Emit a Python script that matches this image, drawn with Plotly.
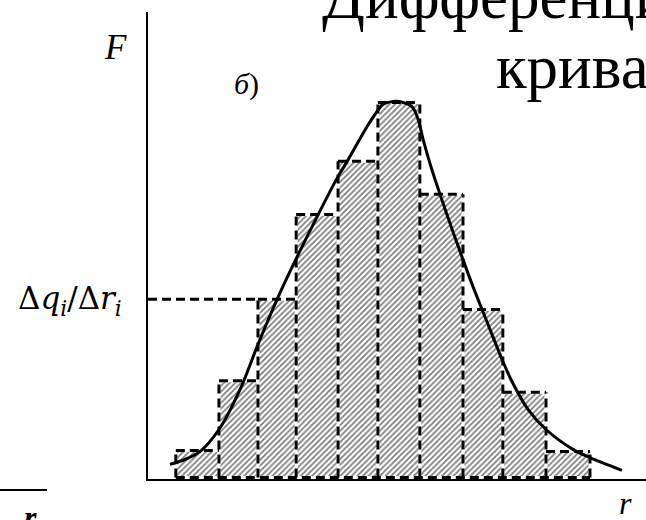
import plotly.graph_objects as go

# Histogram of the size distribution: class boundaries (r) and class heights (F = Δq/Δr)
r_edges = [0.67, 1.71, 2.65, 3.57, 4.58, 5.54, 6.55, 7.59, 8.55, 9.59, 10.65]
F_bars = [0.072, 0.258, 0.475, 0.701, 0.843, 1.000, 0.755, 0.448, 0.227, 0.069]

# Smooth differential distribution curve
r_curve = [0.53, 0.89, 1.25, 1.71, 2.22, 2.65, 3.11, 3.42, 4.10, 4.58, 4.80, 5.28,
           5.52, 5.66, 6.00, 6.36, 6.51, 6.63, 6.84, 7.08, 7.33, 7.57, 7.81, 8.05,
           8.29, 8.53, 8.77, 9.16, 9.59, 10.24, 10.65, 11.42]
F_curve = [0.035, 0.048, 0.069, 0.128, 0.235, 0.355, 0.475, 0.549, 0.701, 0.803, 0.843, 0.936,
           0.976, 0.995, 1.003, 0.989, 0.955, 0.901, 0.821, 0.741, 0.661, 0.587, 0.515, 0.448,
           0.381, 0.315, 0.256, 0.181, 0.128, 0.075, 0.053, 0.019]

# Class whose height is carried over to the F axis
i_marked = 2

FONT = "Liberation Serif, Times New Roman, serif"
MATH_FONT = "DejaVu Serif, serif"
W, H = 646, 520
DASH = "9px,5px"

centers = [(a + b) / 2 for a, b in zip(r_edges[:-1], r_edges[1:])]
widths = [b - a for a, b in zip(r_edges[:-1], r_edges[1:])]

fig = go.Figure()

# hatched class bars
fig.add_trace(go.Bar(
    x=centers, y=F_bars, width=widths,
    marker=dict(color="white", line=dict(width=0),
                pattern=dict(shape="/", size=4, solidity=0.45,
                             fgcolor="black", bgcolor="white")),
    hoverinfo="skip",
))

# dashed outline of the histogram: shared vertical edges, tops, base
ox, oy = [], []
n = len(F_bars)
for k, e in enumerate(r_edges):
    hl = F_bars[k - 1] if k > 0 else 0
    hr = F_bars[k] if k < n else 0
    ox += [e, e, None]
    oy += [0, max(hl, hr), None]
for k, h in enumerate(F_bars):
    ox += [r_edges[k], r_edges[k + 1], None]
    oy += [h, h, None]
ox += [r_edges[0], r_edges[-1], None]
oy += [0, 0, None]

fig.add_trace(go.Scatter(x=ox, y=oy, mode="lines",
                         line=dict(color="white", width=3), hoverinfo="skip"))
fig.add_trace(go.Scatter(x=ox, y=oy, mode="lines",
                         line=dict(color="black", width=3, dash=DASH), hoverinfo="skip"))

# level of the marked class carried to the F axis
fig.add_trace(go.Scatter(
    x=[0, r_edges[i_marked]], y=[F_bars[i_marked], F_bars[i_marked]], mode="lines",
    line=dict(color="black", width=3, dash=DASH), hoverinfo="skip"))

# differential curve
fig.add_trace(go.Scatter(
    x=r_curve, y=F_curve, mode="lines",
    line=dict(color="black", width=3, shape="spline", smoothing=0.8), hoverinfo="skip"))


def px(x):
    return x / W


def py(y):
    return 1 - y / H


annotations = [
    dict(text="<i>F</i>", x=px(115), y=py(47), font=dict(size=35)),
    dict(text="<i>б</i>)", x=px(246), y=py(84), font=dict(size=30)),
    dict(text="Δ<i>q</i><sub><i>i</i></sub>/Δ<i>r</i><sub><i>i</i></sub>",
         x=px(70), y=py(300), font=dict(size=31, family=MATH_FONT)),
    dict(text="<i>r</i>", x=px(625), y=py(503), font=dict(size=32)),
    dict(text="<b><i>r</i></b>", x=px(30), y=py(517), font=dict(size=32)),
    dict(text="Дифференциальная", x=px(320), y=py(34), xanchor="left", yanchor="bottom",
         font=dict(size=63)),
    dict(text="кривая", x=px(494), y=py(104), xanchor="left", yanchor="bottom",
         font=dict(size=63)),
]
for a in annotations:
    a.setdefault("xanchor", "center")
    a.setdefault("yanchor", "middle")
    a.update(xref="paper", yref="paper", showarrow=False)
    a["font"].setdefault("family", FONT)
    a["font"]["color"] = "black"

fig.update_layout(
    width=W, height=H,
    margin=dict(l=0, r=0, t=0, b=0),
    paper_bgcolor="white", plot_bgcolor="white",
    showlegend=False,
    annotations=annotations,
    shapes=[dict(type="line", xref="paper", yref="paper",
                 x0=0, x1=px(47), y0=py(490), y1=py(490),
                 line=dict(color="black", width=2))],
    xaxis=dict(domain=[px(148), 1], range=[0, 12], showline=True, linecolor="black",
               linewidth=2, showticklabels=False, ticks="", showgrid=False, zeroline=False,
               fixedrange=True),
    yaxis=dict(domain=[py(479), py(12)], range=[-0.004, 1.2413], showline=True,
               linecolor="black", linewidth=2, showticklabels=False, ticks="",
               showgrid=False, zeroline=False, fixedrange=True),
)

fig.write_html("out.html")
